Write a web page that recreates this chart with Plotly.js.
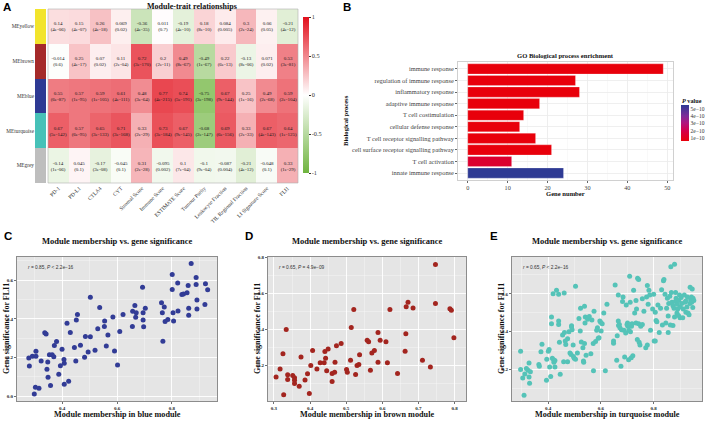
<!DOCTYPE html>
<html><head><meta charset="utf-8">
<script src="https://cdn.plot.ly/plotly-3.0.1.min.js"></script>
<style>html,body{margin:0;padding:0;background:#fff}</style>
</head><body><div id="chart" style="width:709px;height:424px"></div>
<script>
// ---------- Panel A data ----------
const traits = ['PD-1','PD-L1','CTLA4','CYT','Stromal Score','Immune Score','ESTIMATE Score','Tumour Purity','Leukocyte Fraction','TIL Regional Fraction','LI Signature Score','FLI1'];
const modules = ['MEyellow','MEbrown','MEblue','MEturquoise','MEgrey'];
const moduleColors = ['#F2E42C','#A52A2A','#2E3A94','#47C1B8','#BEBEBE'];
const corYellow = [0.14,0.15,0.26,0.069,-0.36,0.011,-0.19,0.18,0.084,0.3,0.06,-0.21];
const pYellow = ['4e-06','4e-07','4e-18','0.02','4e-35','0.7','4e-10','8e-10','0.005','2e-24','0.05','4e-12'];
const corBrown = [-0.014,0.25,0.07,0.11,0.72,0.2,0.49,-0.49,0.22,-0.13,0.071,0.53];
const pBrown = ['0.6','4e-17','0.02','2e-04','3e-170','2e-11','8e-67','1e-67','6e-13','8e-06','0.02','3e-81'];
const corBlue = [0.55,0.57,0.59,0.61,0.48,0.77,0.74,-0.75,0.67,0.25,0.49,0.59];
const pBlue = ['6e-87','1e-95','1e-105','4e-111','3e-64','4e-215','5e-191','3e-198','9e-144','1e-16','2e-68','2e-104'];
const corTurq = [0.67,0.57,0.65,0.71,0.33,0.73,0.67,-0.68,0.69,0.33,0.67,0.64];
const pTurq = ['5e-142','6e-95','3e-133','3e-168','2e-29','3e-184','9e-145','2e-147','6e-156','2e-33','4e-143','1e-125'];
const corGrey = [-0.14,0.045,-0.17,-0.045,0.31,-0.095,0.1,-0.1,-0.087,-0.21,-0.048,0.33];
const pGrey = ['1e-06','0.1','3e-08','0.1','2e-28','0.002','7e-04','9e-04','0.004','4e-12','0.1','1e-29'];
const corTicks = [-1,-0.5,0,0.5,1];

// ---------- Panel B data ----------
const goTerms = ['immune response','regulation of immune response','inflammatory response','adaptive immune response','T cell costimulation','cellular defense response','T cell receptor signalling pathway','cell surface receptor signalling pathway','T cell activation','innate immune response'];
const geneCounts = [49,27,28,18,14,13,17,21,11,24];
const goPvalues = [1.0e-25,3.1e-16,2.5e-15,4.0e-14,2.2e-13,6.7e-13,1.1e-12,3.4e-12,1.4e-10,5.6e-10];
const pTickVals = [1e-10,2e-10,3e-10,4e-10,5e-10];
const pTickText = ['1e\u221210','2e\u221210','3e\u221210','4e\u221210','5e\u221210'];
const geneTicks = [0,10,20,30,40,50];

// ---------- Panels C-E data ----------
const blueX = [0.279,0.281,0.292,0.305,0.305,0.299,0.303,0.316,0.324,0.337,
0.342,0.345,0.348,0.349,0.354,0.358,0.364,0.370,0.372,0.380,
0.388,0.394,0.400,0.407,0.408,0.408,0.418,0.424,0.430,0.445,
0.450,0.452,0.456,0.467,0.482,0.485,0.495,0.503,0.503,0.520,
0.530,0.537,0.554,0.555,0.561,0.567,0.585,0.591,0.602,0.610,
0.622,0.656,0.657,0.665,0.668,0.670,0.693,0.695,0.695,0.697,
0.703,0.762,0.765,0.767,0.772,0.775,0.785,0.801,0.801,0.804,
0.806,0.821,0.822,0.836,0.842,0.855,0.859,0.861,0.861,0.870,
0.888,0.888,0.891,0.891,0.920,0.922,0.930];
const blueY = [0.197,0.156,0.207,0.207,0.232,0.011,0.046,0.041,0.182,0.328,
0.321,0.139,0.177,0.098,0.214,0.055,0.214,0.204,0.262,0.283,
0.113,0.157,0.243,0.190,0.170,0.062,0.377,0.077,0.330,0.252,
0.182,0.394,0.422,0.263,0.201,0.309,0.228,0.308,0.512,0.237,
0.349,0.459,0.360,0.389,0.259,0.317,0.410,0.234,0.161,0.334,
0.422,0.360,0.439,0.469,0.408,0.432,0.563,0.432,0.394,0.359,
0.455,0.483,0.432,0.284,0.461,0.386,0.397,0.629,0.552,0.432,
0.389,0.586,0.441,0.526,0.528,0.535,0.572,0.455,0.419,0.687,
0.614,0.578,0.497,0.451,0.474,0.581,0.550];
const brownX = [0.306,0.317,0.325,0.327,0.334,0.338,0.338,0.352,0.357,0.357,
0.357,0.370,0.375,0.386,0.393,0.398,0.402,0.407,0.419,0.428,
0.439,0.441,0.443,0.446,0.450,0.461,0.461,0.468,0.469,0.473,
0.486,0.501,0.503,0.512,0.514,0.521,0.526,0.530,0.535,0.537,
0.558,0.562,0.567,0.571,0.578,0.588,0.588,0.594,0.610,0.614,
0.621,0.642,0.663,0.665,0.666,0.671,0.685,0.711,0.733,0.747,
0.747,0.787,0.791,0.798];
const brownY = [0.138,0.182,0.267,0.039,0.401,0.150,0.123,0.145,0.133,0.119,
0.101,0.086,0.249,0.121,0.156,0.046,0.201,0.284,0.182,0.216,
0.216,0.279,0.241,0.172,0.293,0.113,0.157,0.164,0.219,0.311,
0.323,0.179,0.164,0.231,0.412,0.513,0.151,0.201,0.207,0.261,
0.341,0.333,0.175,0.271,0.284,0.385,0.219,0.341,0.333,0.216,
0.513,0.157,0.281,0.378,0.527,0.553,0.520,0.231,0.193,0.545,
0.763,0.516,0.508,0.356];
const turqX = [0.296,0.296,0.304,0.312,0.309,0.318,0.324,0.328,0.328,0.330,
0.333,0.365,0.367,0.373,0.377,0.394,0.395,0.401,0.404,0.406,
0.410,0.413,0.413,0.416,0.421,0.422,0.426,0.426,0.419,0.432,
0.440,0.440,0.440,0.443,0.446,0.455,0.459,0.461,0.462,0.465,
0.467,0.474,0.474,0.479,0.483,0.487,0.489,0.489,0.491,0.495,
0.496,0.499,0.504,0.504,0.511,0.517,0.522,0.523,0.526,0.532,
0.534,0.535,0.538,0.538,0.540,0.541,0.544,0.550,0.556,0.562,
0.566,0.571,0.572,0.574,0.580,0.584,0.587,0.590,0.593,0.596,
0.599,0.601,0.605,0.611,0.617,0.623,0.648,0.648,0.654,0.660,
0.662,0.666,0.666,0.667,0.670,0.672,0.676,0.678,0.682,0.684,
0.687,0.690,0.694,0.696,0.699,0.701,0.702,0.705,0.706,0.709,
0.711,0.712,0.715,0.716,0.718,0.721,0.724,0.728,0.733,0.733,
0.735,0.738,0.739,0.743,0.743,0.745,0.748,0.751,0.757,0.757,
0.763,0.770,0.773,0.776,0.776,0.779,0.782,0.785,0.788,0.796,
0.800,0.802,0.806,0.806,0.809,0.812,0.816,0.821,0.826,0.830,
0.833,0.837,0.839,0.843,0.846,0.849,0.852,0.855,0.855,0.857,
0.861,0.863,0.865,0.867,0.869,0.873,0.873,0.877,0.879,0.879,
0.882,0.883,0.885,0.888,0.889,0.891,0.894,0.895,0.898,0.900,
0.901,0.904,0.906,0.910,0.912,0.916,0.918,0.922,0.922,0.926,
0.928,0.930,0.934,0.937,0.938,0.940,0.943,0.944,0.946,0.948,
0.949,0.952];
const turqY = [0.297,0.200,0.156,0.177,0.065,0.206,0.196,0.235,0.161,0.128,
0.189,0.227,0.217,0.294,0.334,0.144,0.255,0.297,0.306,0.214,
0.163,0.477,0.442,0.259,0.252,0.238,0.248,0.213,0.600,0.618,
0.597,0.456,0.438,0.344,0.175,0.382,0.241,0.604,0.396,0.351,
0.332,0.241,0.362,0.400,0.287,0.280,0.431,0.424,0.410,0.330,
0.269,0.259,0.639,0.255,0.287,0.470,0.404,0.523,0.346,0.315,
0.245,0.238,0.534,0.337,0.446,0.477,0.276,0.466,0.480,0.283,
0.461,0.337,0.193,0.508,0.348,0.407,0.421,0.365,0.368,0.456,
0.449,0.404,0.442,0.499,0.193,0.545,0.351,0.339,0.646,0.249,
0.379,0.593,0.456,0.432,0.438,0.421,0.217,0.410,0.559,0.583,
0.407,0.266,0.393,0.541,0.438,0.446,0.428,0.252,0.407,0.692,
0.555,0.400,0.262,0.428,0.442,0.273,0.618,0.499,0.565,0.446,
0.520,0.358,0.682,0.675,0.442,0.344,0.330,0.428,0.438,0.573,
0.508,0.315,0.583,0.644,0.330,0.545,0.618,0.593,0.407,0.520,
0.597,0.351,0.503,0.351,0.459,0.452,0.541,0.396,0.523,0.621,
0.435,0.668,0.675,0.597,0.446,0.523,0.576,0.482,0.396,0.548,
0.587,0.435,0.742,0.607,0.555,0.432,0.537,0.523,0.756,0.477,
0.559,0.607,0.576,0.499,0.545,0.520,0.485,0.565,0.593,0.473,
0.530,0.580,0.548,0.473,0.520,0.593,0.555,0.503,0.562,0.530,
0.583,0.499,0.489,0.548,0.635,0.569,0.583,0.555,0.625,0.527,
0.576,0.565];
const statText = ['<i>r</i> = 0.85, <i>P</i> &lt; 2.2e\u221216','<i>r</i> = 0.65, <i>P</i> = 4.9e\u221209','<i>r</i> = 0.65, <i>P</i> &lt; 2.2e\u221216'];
const moduleNames = ['blue','brown','turquoise'];

// ---------- layout helpers (pixel -> paper) ----------
const W = 709, H = 424;
const xd = (a,b) => [a/W, b/W];
const yd = (t,b) => [1-b/H, 1-t/H];
const px = v => v/W, py = v => 1-v/H;
const SERIF = 'Liberation Serif, Times New Roman, serif';
const SANS = 'Liberation Sans, Arial, sans-serif';

const corZ = [corYellow, corBrown, corBlue, corTurq, corGrey];
const pZ = [pYellow, pBrown, pBlue, pTurq, pGrey];
const cellText = corZ.map((row,i) => row.map((v,j) => v + '<br>(' + pZ[i][j] + ')'));

const HM_TOP = 9, HM_BOT = 183;
const traces = [];
traces.push({
  type:'heatmap', x: traits, y: modules, z: corZ, text: cellText,
  texttemplate:'%{text}', textfont:{family:SERIF, size:5, color:'#1a1a1a'},
  zmin:-1, zmax:1, xaxis:'x', yaxis:'y', hoverinfo:'skip',
  colorscale:[[0,'#6FB43E'],[0.5,'#FFFFFF'],[1,'#E2101C']],
  colorbar:{x:px(303), xanchor:'left', y:py(95), yanchor:'middle', lenmode:'pixels', len:156,
    thickness:6, thicknessmode:'pixels', tickvals:corTicks, ticktext:corTicks.map(String),
    ticks:'outside', ticklen:2, tickcolor:'#333', tickfont:{family:SERIF,size:6.3,color:'#333'},
    outlinewidth:0, xpad:0, ypad:0}
});
traces.push({
  type:'heatmap', x:['module'], y: modules, z: modules.map((m,i)=>[i]), xaxis:'x2', yaxis:'y2',
  showscale:false, hoverinfo:'skip', zmin:0, zmax:4,
  colorscale:[[0,moduleColors[0]],[0.125,moduleColors[0]],[0.125,moduleColors[1]],[0.375,moduleColors[1]],
    [0.375,moduleColors[2]],[0.625,moduleColors[2]],[0.625,moduleColors[3]],[0.875,moduleColors[3]],
    [0.875,moduleColors[4]],[1,moduleColors[4]]]
});
traces.push({
  type:'bar', orientation:'h', x: geneCounts, y: goTerms, xaxis:'x3', yaxis:'y3', width:0.88,
  hoverinfo:'skip',
  marker:{color: goPvalues, cmin:0.6e-10, cmax:5.5e-10,
    colorscale:[[0,'#E8000B'],[0.3,'#D2004E'],[0.5,'#B0157E'],[0.7,'#7C2B98'],[1,'#2E3A94']],
    line:{color:'rgba(255,255,255,0.6)', width:0.4},
    colorbar:{x:px(681), xanchor:'left', y:py(123), yanchor:'middle', lenmode:'pixels', len:36,
      thickness:8, thicknessmode:'pixels', tickvals:pTickVals, ticktext:pTickText, ticks:'',
      tickfont:{family:SERIF,size:5.5,color:'#333'}, outlinewidth:0, xpad:0, ypad:0}}
});
const scatterSets = [[blueX,blueY,'#323C96'],[brownX,brownY,'#A3251F'],[turqX,turqY,'#55C3B8']];
scatterSets.forEach((s,i) => {
  traces.push({type:'scatter', mode:'markers', x:s[0], y:s[1], xaxis:'x'+(4+i), yaxis:'y'+(4+i),
    hoverinfo:'skip', marker:{size:5, color:s[2]}});
});

const scatAxis = (dom, anchor, range, dtick, minorDtick) => ({
  domain: dom, anchor: anchor, range: range, dtick: dtick, tickformat:'.1f',
  showline:true, mirror:true, linecolor:'#8C8C8C', linewidth:1,
  ticks:'outside', ticklen:2, tickwidth:0.7, tickcolor:'#333',
  tickfont:{family:SERIF, size:5, color:'#222', weight:'bold'},
  showgrid:true, gridcolor:'#FFFFFF', gridwidth:0.9, zeroline:false,
  minor:{showgrid:true, gridcolor:'rgba(255,255,255,0.75)', gridwidth:0.4, dtick:minorDtick}
});

const panelsX = [[17,217],[268,466],[512,702]];
const P_TOP = 257, P_BOT = 401;
const layout = {
  width:W, height:H, margin:{l:0,r:0,t:0,b:0}, paper_bgcolor:'#FFFFFF', plot_bgcolor:'#FFFFFF',
  showlegend:false, font:{family:SERIF, color:'#222'},
  xaxis:{domain:xd(48,298), anchor:'y', tickangle:-45, tickfont:{family:SERIF,size:5.5,color:'#333'},
    showgrid:false, zeroline:false, ticks:'', showline:false},
  yaxis:{domain:yd(HM_TOP,HM_BOT), anchor:'x', autorange:'reversed', showticklabels:false, showgrid:false, zeroline:false, ticks:''},
  xaxis2:{domain:xd(35,46), anchor:'y2', showticklabels:false, showgrid:false, zeroline:false, ticks:''},
  yaxis2:{domain:yd(HM_TOP,HM_BOT), anchor:'x2', autorange:'reversed', tickfont:{family:SERIF,size:5.3,color:'#333'},
    showgrid:false, zeroline:false, ticks:''},
  xaxis3:{domain:xd(458,673), anchor:'y3', range:[-2.45,51.45], tickvals:geneTicks, ticks:'outside', ticklen:2,
    tickcolor:'#666', tickfont:{family:SERIF,size:6.2,color:'#444'}, showgrid:true, gridcolor:'#EBEBEB',
    gridwidth:0.8, minor:{showgrid:true, gridcolor:'#F4F4F4', gridwidth:0.5, dtick:5}, zeroline:false,
    showline:true, mirror:true, linecolor:'#C4C4C4', linewidth:0.8},
  yaxis3:{domain:yd(62,180), anchor:'x3', type:'category', range:[9.6,-0.6], ticks:'outside', ticklen:2,
    tickcolor:'#666', tickfont:{family:SERIF,size:6.4,color:'#444'}, showgrid:true, gridcolor:'#EBEBEB',
    gridwidth:0.8, zeroline:false, showline:true, mirror:true, linecolor:'#C4C4C4', linewidth:0.8},
  xaxis4: scatAxis(xd(panelsX[0][0],panelsX[0][1]),'y4',[0.236,0.964],0.2,0.1),
  yaxis4: scatAxis(yd(P_TOP,P_BOT),'x4',[-0.025,0.72],0.2,0.1),
  xaxis5: scatAxis(xd(panelsX[1][0],panelsX[1][1]),'y5',[0.2836,0.8315],0.1,0.05),
  yaxis5: scatAxis(yd(P_TOP,P_BOT),'x5',[0.004,0.804],0.2,0.1),
  xaxis6: scatAxis(xd(panelsX[2][0],panelsX[2][1]),'y6',[0.2634,0.983],0.2,0.1),
  yaxis6: scatAxis(yd(P_TOP,P_BOT),'x6',[0.034,0.794],0.2,0.1),
  shapes: [
    {type:'rect', xref:'x domain', yref:'y domain', x0:0,x1:1,y0:0,y1:1, line:{color:'#B0B0B0',width:0.6}, fillcolor:'rgba(0,0,0,0)', layer:'above'},
    ...[4,5,6].map(k => ({type:'rect', xref:'x'+k+' domain', yref:'y'+k+' domain', x0:0,x1:1,y0:0,y1:1,
      fillcolor:'#E5E5E5', line:{width:0}, layer:'below'}))
  ],
  annotations: []
};
const ann = layout.annotations;
const addText = (text, x, y, size, opts={}) => ann.push({text:text, x:px(x), y:py(y), xref:'paper', yref:'paper',
  showarrow:false, font:{family:opts.family||SERIF, size:size, color:opts.color||'#111'},
  xanchor:opts.xanchor||'center', yanchor:opts.yanchor||'middle', textangle:opts.angle||0});
// panel letters
addText('<b>A</b>', 1, 7, 11.5, {family:SANS, xanchor:'left', color:'#000'});
addText('<b>B</b>', 341, 7, 11.5, {family:SANS, xanchor:'left', color:'#000'});
addText('<b>C</b>', 2, 236, 11.5, {family:SANS, xanchor:'left', color:'#000'});
addText('<b>D</b>', 243, 236, 11.5, {family:SANS, xanchor:'left', color:'#000'});
addText('<b>E</b>', 488, 236, 11.5, {family:SANS, xanchor:'left', color:'#000'});
// panel A title
addText('<b>Module-trait relationships</b>', 192, 6, 8);
// panel B texts
addText('<b>GO Biological process enrichment</b>', 565, 55, 6.6);
addText('<b>Gene number</b>', 565, 194, 6.6);
addText('<b>Biological process</b>', 345, 121, 6.6, {angle:-90});
addText('<b><i>P</i> value</b>', 680, 100, 6.2, {xanchor:'left'});
// panels C-E texts
panelsX.forEach((p,i) => {
  const cx = (p[0]+p[1])/2;
  addText('<b>Module membership vs. gene significance</b>', cx, 241, 8.5);
  addText('<b>Module membership in ' + moduleNames[i] + ' module</b>', cx, 414, 8.2);
  addText('<b>Gene significance for FLI1</b>', p[0]-11, (P_TOP+P_BOT)/2, 8, {angle:-90});
  addText(statText[i], p[0]+9, P_TOP+10, 4.8, {family:SANS, xanchor:'left', color:'#333'});
});

Plotly.newPlot('chart', traces, layout, {staticPlot:true, displayModeBar:false});
</script>
</body></html>
